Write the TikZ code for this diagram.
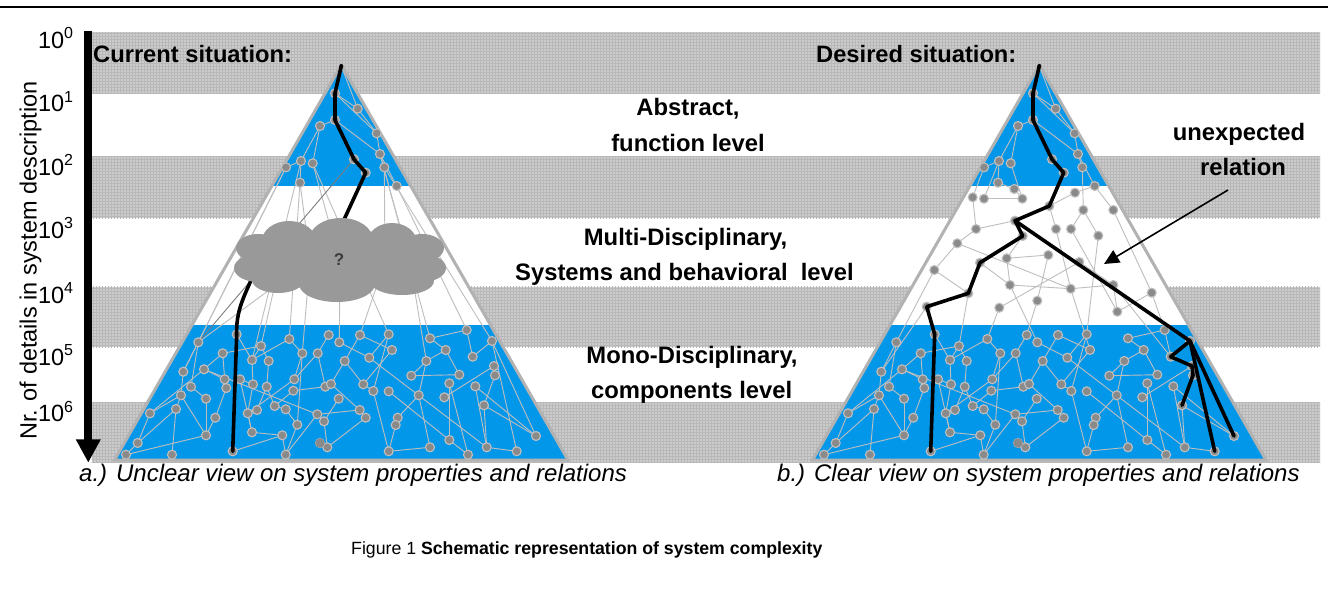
\documentclass[tikz,border=0pt]{standalone}
\usepackage{fontspec}
\setmainfont{Liberation Sans}
\usetikzlibrary{patterns,arrows.meta}

\definecolor{skyfill}{RGB}{3,151,234}
\definecolor{bandgrey}{RGB}{204,204,204}
\definecolor{bandline}{RGB}{184,184,184}
\definecolor{rimgrey}{RGB}{178,178,178}
\definecolor{linkgrey}{RGB}{190,190,190}
\definecolor{darklink}{RGB}{125,125,125}
\definecolor{dotgrey}{RGB}{138,138,138}
\definecolor{dotrim}{RGB}{192,192,192}
\definecolor{cloudgrey}{RGB}{153,153,153}
\definecolor{qgrey}{RGB}{60,60,60}

\newcommand\txtsize[1]{\fontsize{#1}{#1}\selectfont}

% component level (shared by both pyramids, left copy; right copy is shifted by 698)
\def\lowerpts{1/198.3/342.3, 2/236.7/334.3, 3/222.7/353.3, 4/261/346, 5/289.3/339, 6/328.7/335, 7/339.3/342.3, 8/360/335, 9/388.7/334.3, 10/392/350, 11/369.3/357.7, 12/344.7/361, 13/317.7/353.3, 14/302.3/353.3, 15/268.7/361, 16/252/360, 17/204/369.3, 18/183.3/371.7, 19/224.7/379.3, 20/240/379.3, 21/253/384.3, 22/266.7/386.7, 23/294.3/379.3, 24/293.3/390.7, 25/325.3/386.7, 26/331/384, 27/338.7/398.7, 28/363.3/384.3, 29/191/386.7, 30/226.3/388, 31/181/395.3, 32/206/398.7, 33/150/413.3, 34/176/409, 35/215.3/417.7, 36/247.7/413.3, 37/257/410, 38/274.7/406, 39/285.7/409.3, 40/297.3/424.7, 41/317.3/414.3, 42/324/421.3, 43/359.7/410, 44/365.7/417.7, 45/373.3/391, 46/388.7/391.3, 47/418.7/395.3, 48/411.3/375.7, 49/459.3/374.7, 50/449.3/383.3, 51/444.3/397.3, 52/475.3/386.3, 53/484/405.3, 54/495/375.3, 55/494/366, 56/472.7/356.7, 57/492/341, 58/466.7/330, 59/430/338.3, 60/445.7/350, 61/426.3/361, 62/397.7/417.7, 63/395.7/425, 64/536/436, 65/516.7/451.3, 66/486.7/447.3, 67/468/454.7, 68/449.3/440, 69/430/447.3, 70/388.7/451.3, 71/327.3/447.3, 72/320/443, 73/282.3/435.3, 74/252/432.3, 75/285.7/454.7, 76/232.7/451.3, 77/206/435.3, 78/172/454.7, 79/137.7/443, 80/126/454.7}
\def\loweredges{1/18, 1/29, 2/16, 3/4, 3/17, 3/19, 4/15, 5/16, 5/14, 6/13, 7/11, 8/10, 8/12, 9/11, 10/28, 11/66, 12/28, 13/25, 14/23, 15/22, 17/19, 17/41, 18/31, 19/30, 20/21, 20/74, 21/36, 22/37, 23/36, 24/25, 24/38, 26/43, 27/42, 29/32, 30/35, 31/34, 31/77, 32/77, 33/17, 33/79, 34/78, 34/79, 36/37, 36/74, 38/39, 39/40, 40/75, 41/42, 41/75, 41/43, 42/71, 43/44, 44/71, 45/70, 46/68, 47/62, 47/69, 48/49, 49/60, 50/68, 51/55, 52/66, 53/54, 53/64, 54/55, 56/57, 56/58, 57/64, 57/65, 58/59, 59/60, 60/61, 61/47, 62/63, 63/70, 65/66, 67/50, 69/70, 73/74, 73/76, 79/80, 9/45, 23/13, 14/40, 12/26, 22/38, 16/21, 35/77, 48/61, 28/45, 4/16, 33/31, 80/77, 75/73, 67/68, 66/53, 64/52}

% function level (shared)
\def\upperpts{1/335/93.3, 2/357.7/108.7, 3/335/120, 4/320/126, 5/376.7/133.3, 6/380/154, 7/301/161, 8/312.7/163.3, 9/286/167.3, 10/354/159.3, 11/365.7/172.7, 12/384.3/167.3, 13/300/182.7, 14/396.7/186}
\def\upperedges{0/2, 1/2, 1/5, 2/5, 3/4, 3/6, 4/7, 4/8, 5/6, 6/12, 6/14, 7/9, 7/13}

% system level of the right pyramid
\def\midpts{1/1014.3/189, 2/972.7/197.3, 3/984/198.7, 4/1022.3/198.7, 5/1075/192.7, 6/1049.3/206, 7/1083.3/210, 8/1113.3/210, 9/1015/220.7, 10/976/229, 11/1056/229, 12/1071/229, 13/1098.3/235.7, 14/1022.7/236, 15/957.3/243.3, 16/1006.7/258.3, 17/1048.3/255, 18/1079.3/262, 19/980/262.7, 20/934.3/270, 21/1010/285, 22/1070.7/288.7, 23/1113.3/285, 24/1151.7/292.7, 25/968.3/293.3, 26/1037.3/300.7, 27/999.3/307.7, 28/1117.3/311.7, 29/926.7/306.7}
\def\midedges{1/4, 3/4, 2/10, 9/10, 10/15, 15/20, 15/22, 20/25, 16/21, 17/26, 11/22, 7/12, 12/28, 8/24, 5/6, 21/22, 22/23, 23/28, 24/28, 18/27, 18/23, 6/11, 16/17, 14/16, 7/13, 19/21}

\begin{document}
\begin{tikzpicture}[x=1pt,y=-1pt,
  netlink/.style={draw=linkgrey,line width=0.9pt},
  netdot/.style={circle,fill=dotgrey,draw=dotrim,line width=1.1pt,inner sep=0pt,minimum size=9pt},
  thickpath/.style={draw=black,line width=3.6pt,line join=round,line cap=round},
  lbl/.style={inner sep=0pt,anchor=base},
  bandfill/.style={fill=bandgrey},
  rim/.style={draw=rimgrey,line width=3pt}
]
\useasboundingbox (0,0) rectangle (1328,606);
\fill[white] (0,0) rectangle (1328,606);

% page rule
\draw[line width=2pt] (0,7) -- (1328,7);

% hatched level bands
\foreach \t/\b in {32/93.3, 156.7/218.3, 286.7/347.3, 402.3/462} {
  \fill[bandfill] (91.7,\t) rectangle (1320,\b);
  \fill[pattern=grid, pattern color=bandline] (91.7,\t) rectangle (1320,\b);
}

% pyramids
\foreach \dx/\p in {0/L, 698/R} {
  \coordinate (\p top) at (341.3+\dx,65);
  \coordinate (\p left) at (114.5+\dx,460);
  \coordinate (\p right) at (568+\dx,460);
}
\foreach \p in {L,R} {
  \fill[white] (\p top) -- (\p left) -- (\p right) -- cycle;
  \begin{scope}
    \clip (\p top) -- (\p left) -- (\p right) -- cycle;
    \fill[skyfill] (0,60) rectangle (1328,186);
    \fill[skyfill] (0,325) rectangle (1328,462);
  \end{scope}
  \draw[rim] (\p top) -- (\p left) -- (\p right) -- cycle;
}

% network points
\coordinate (AU0) at (341.3,66);
\coordinate (BU0) at (1039.3,66);
\foreach \i/\x/\y in \upperpts {
  \coordinate (AU\i) at (\x,\y);
  \coordinate (BU\i) at (\x+698,\y);
}
\foreach \i/\x/\y in \lowerpts {
  \coordinate (A\i) at (\x,\y);
  \coordinate (B\i) at (\x+698,\y);
}
\foreach \i/\x/\y in \midpts {
  \coordinate (M\i) at (\x,\y);
}
% hidden junctions behind the cloud
\coordinate (K0) at (258,262);
\coordinate (K1) at (280,262);
\coordinate (K2) at (310,260);
\coordinate (K3) at (340,262);
\coordinate (K4) at (385,262);
\coordinate (K5) at (410,262);
\coordinate (K6) at (330,250);

% thin relations
\foreach \a/\b in \loweredges {
  \draw[netlink] (A\a) -- (A\b);
  \draw[netlink] (B\a) -- (B\b);
}
\foreach \a/\b in \upperedges {
  \draw[netlink] (AU\a) -- (AU\b);
  \draw[netlink] (BU\a) -- (BU\b);
}
\foreach \a/\b in \midedges {
  \draw[netlink] (M\a) -- (M\b);
}
% right pyramid: function level to system level, system level to components
\foreach \a/\b in {13/1, 9/2, 8/4, 14/5, 12/7, 14/8, 7/3} {
  \draw[netlink] (BU\a) -- (M\b);
}
\foreach \a/\b in {20/1, 26/6, 13/9, 24/58, 27/5, 21/7, 22/10, 29/18, 25/4, 23/56} {
  \draw[netlink] (M\a) -- (B\b);
}
% left pyramid: relations hidden in the cloud
\foreach \a/\b in {9/1, 9/18, 13/5, 8/9, 12/57, 14/58, 6/59, 7/16} {
  \draw[netlink] (AU\a) -- (A\b);
}
\foreach \a/\b in {1/4, 2/14, 3/7, 4/8, 5/61, 2/1} {
  \draw[netlink] (K\a) -- (A\b);
}
\foreach \a/\b in {13/2, 8/3, 12/4, 6/5} {
  \draw[netlink] (AU\a) -- (K\b);
}
\draw[draw=darklink,line width=0.9pt] (AU10) -- (A1);

% elements
\foreach \i/\x/\y in \upperpts {
  \node[netdot] (dAU\i) at (AU\i) {};
  \node[netdot] (dBU\i) at (BU\i) {};
}
\foreach \i/\x/\y in \lowerpts {
  \node[netdot] (dA\i) at (A\i) {};
  \node[netdot] (dB\i) at (B\i) {};
}
\foreach \i/\x/\y in \midpts {
  \node[netdot] (dM\i) at (M\i) {};
}
\node[netdot,draw=none,minimum size=9.5pt] (dA72x) at (A72) {};
\node[netdot,draw=none,minimum size=9.5pt] (dB72x) at (B72) {};

% traced dependency chains
\draw[thickpath] (AU0) -- (AU1) -- (AU3) -- (AU10) -- (AU11) -- (K6);
\draw[thickpath] (K0) to[out=-108,in=92] (A2) -- (A76);
\draw[thickpath] (BU0) -- (BU1) -- (BU3) -- (BU10) -- (BU11) -- (M6) -- (M9) -- (M14) -- (M19) -- (M25) -- (M29) -- (B2) -- (B76);
\draw[thickpath] (M9) -- (B57);
\draw[thickpath] (B57) -- (B56) -- (B55) -- (B54) -- (B53);
\draw[thickpath] (B57) -- (B65);
\draw[thickpath] (B57) -- (B64);
\node[circle,fill=black,inner sep=0pt,minimum size=4pt] (apexL) at (AU0) {};
\node[circle,fill=black,inner sep=0pt,minimum size=4pt] (apexR) at (BU0) {};

% cloud over the system level of the left pyramid
\fill[cloudgrey]
  (339,260) ellipse [x radius=95pt, y radius=30pt]
  (289,241) ellipse [x radius=27pt, y radius=20pt]
  (341,240) ellipse [x radius=32pt, y radius=22pt]
  (392,243) ellipse [x radius=25pt, y radius=20pt]
  (258,248) ellipse [x radius=22pt, y radius=14pt]
  (258,268) ellipse [x radius=24pt, y radius=14pt]
  (422,248) ellipse [x radius=22pt, y radius=14pt]
  (422,268) ellipse [x radius=24pt, y radius=14pt]
  (278,280) ellipse [x radius=26pt, y radius=13pt]
  (337,284) ellipse [x radius=38pt, y radius=18pt]
  (402,281) ellipse [x radius=32pt, y radius=14pt];
\node[font=\txtsize{17}\bfseries, text=qgrey] (qmark) at (339,260) {?};

% axis
\coordinate (axtop) at (88.3,30.7);
\coordinate (axtip) at (88.3,462.7);
\draw[line width=8.3pt, -{Triangle[length=23.4pt,width=23.3pt]}] (axtop) -- (axtip);
\foreach \e/\yb in {0/48, 1/111.5, 2/175, 3/238, 4/303, 5/365, 6/421.5} {
  \node[lbl, anchor=base west, font=\txtsize{23.5}] (tick\e) at (37.8,\yb) {10\raisebox{9.5pt}{\txtsize{16}\e}};
}
\node[lbl, anchor=base west, rotate=90, font=\txtsize{23.5}] (axislabel) at (36.7,440) {Nr. of details in system description};

% headings
\node[lbl, anchor=base west, font=\txtsize{23.7}\bfseries] (curhead) at (93,62) {Current situation:};
\node[lbl, anchor=base west, font=\txtsize{23.7}\bfseries] (deshead) at (816,62) {Desired situation:};

% level names
\node[lbl, font=\txtsize{23.8}\bfseries] (lvA1) at (688,115) {Abstract,};
\node[lbl, font=\txtsize{23.8}\bfseries] (lvA2) at (688,151) {function level};
\node[lbl, font=\txtsize{23.8}\bfseries] (lvB1) at (685.5,245) {Multi-Disciplinary,};
\node[lbl, font=\txtsize{23.8}\bfseries] (lvB2) at (684.5,280) {Systems and behavioral\ \ level};
\node[lbl, font=\txtsize{23.8}\bfseries] (lvC1) at (692,363) {Mono-Disciplinary,};
\node[lbl, font=\txtsize{23.8}\bfseries] (lvC2) at (691.7,398) {components level};

% unexpected relation
\node[lbl, font=\txtsize{23.8}\bfseries] (unexp1) at (1239,140) {unexpected};
\node[lbl, font=\txtsize{23.8}\bfseries] (unexp2) at (1243,175) {relation};
\coordinate (utail) at (1228,190);
\coordinate (utip) at (1104,264);
\draw[line width=1.6pt, -{Triangle[length=15pt,width=14pt]}] (utail) -- (utip);

% captions
\node[lbl, anchor=base west, font=\txtsize{24}\itshape] (capa) at (79,481) {a.) Unclear view on system properties and relations};
\node[lbl, anchor=base west, font=\txtsize{24}\itshape] (capb) at (777,481) {b.) Clear view on system properties and relations};
\node[lbl, anchor=base west, font=\txtsize{17.7}] (figcap) at (351,554) {Figure 1 \textbf{Schematic representation of system complexity}};
\end{tikzpicture}
\end{document}
